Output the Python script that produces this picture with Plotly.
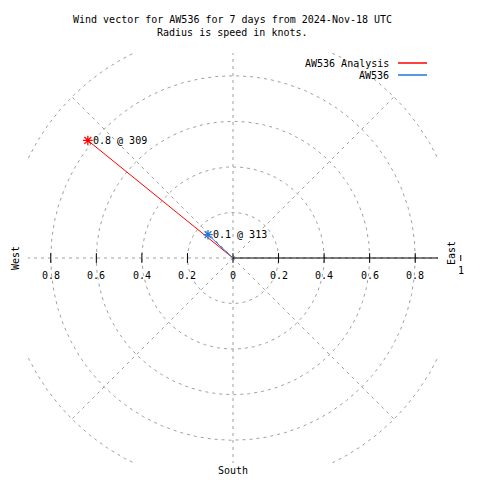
import math
import numpy as np
import plotly.graph_objects as go

# ---- data ----
series_names = ["AW536 Analysis", "AW536"]
speeds = [0.82, 0.15]          # knots
directions = [309, 313]        # degrees (from north, clockwise)
series_colors = ["#ff0000", "#1f78d7"]

ring_values = [0.2, 0.4, 0.6, 0.8, 1.0]
spoke_angles = [0, 45, 90, 135, 180, 225, 270, 315]
tick_values = [-0.8, -0.6, -0.4, -0.2, 0, 0.2, 0.4, 0.6, 0.8]
tick_labels = ["0.8", "0.6", "0.4", "0.2", "0", "0.2", "0.4", "0.6", "0.8"]
outer_tick_value = 1.0
outer_tick_label = "1"
title_lines = ["Wind vector for AW536 for 7 days from 2024-Nov-18 UTC",
               "Radius is speed in knots."]

# ---- layout geometry (page has an 8px body margin) ----
OFF = 8
W, H = 480 - OFF, 480 - OFF
L, T = 28 - OFF, 53 - OFF
PW, PH = 410, 410
R, B = W - L - PW, H - T - PH
XR = [-0.9, 0.9]
FONT = dict(family="DejaVu Sans Mono", size=10, color="black")
GRID = dict(color="#a0a0a0", width=1, dash="3px,4px")


def paper(px, py):
    """page pixel -> paper coords"""
    return (px - OFF - L) / PW, (T + PH - (py - OFF)) / PH


def data_to_paper_x(v):
    return (v - XR[0]) / (XR[1] - XR[0])


fig = go.Figure()

# rings
th = np.linspace(0, 2 * np.pi, 721)
for r in ring_values:
    fig.add_trace(go.Scatter(x=r * np.cos(th), y=r * np.sin(th), mode="lines",
                             line=GRID, hoverinfo="skip", showlegend=False))
# spokes
for a in spoke_angles:
    ar = math.radians(a)
    fig.add_trace(go.Scatter(x=[0, math.cos(ar)], y=[0, math.sin(ar)], mode="lines",
                             line=GRID, hoverinfo="skip", showlegend=False))
# solid axis to the east
fig.add_trace(go.Scatter(x=[0, outer_tick_value], y=[0, 0], mode="lines",
                         line=dict(color="black", width=1), hoverinfo="skip", showlegend=False))
# tick marks
fig.add_trace(go.Scatter(x=tick_values, y=[0] * len(tick_values),
                         mode="markers", cliponaxis=False,
                         marker=dict(symbol="line-ns", size=7, color="black",
                                     line=dict(color="black", width=1)),
                         hoverinfo="skip", showlegend=False))

# data vectors
annotations = []
shapes = []
for name, s, d, c in zip(series_names, speeds, directions, series_colors):
    ex = s * math.sin(math.radians(d))
    ey = s * math.cos(math.radians(d))
    fig.add_trace(go.Scatter(x=[0, ex], y=[0, ey], mode="lines", name=name,
                             line=dict(color=c, width=1), showlegend=False))
    fig.add_trace(go.Scatter(x=[ex], y=[ey], mode="markers", showlegend=False,
                             marker=dict(symbol="asterisk-open", size=8, color=c,
                                         line=dict(color=c, width=1.3))))
    lab = f"{math.floor(s * 10) / 10:.1f} @ {d}"
    annotations.append(dict(x=ex, y=ey, xref="x", yref="y", text=lab, showarrow=False,
                            xanchor="left", yanchor="middle", xshift=3, font=FONT))

# tick labels
for v, t in zip(tick_values, tick_labels):
    annotations.append(dict(x=v, y=0, xref="x", yref="y", text=t, showarrow=False,
                            xanchor="center", yanchor="middle", yshift=-17, font=FONT))

# outer tick (outside the clipped plot area) in paper coords
ox = data_to_paper_x(outer_tick_value)
shapes.append(dict(type="line", xref="paper", yref="y", x0=ox, x1=ox, y0=0, y1=0,
                   ysizemode="pixel", yanchor=0, line=dict(color="black", width=1)))
shapes[-1].update(y0=-3, y1=3)
annotations.append(dict(x=ox, y=0, xref="paper", yref="y", text=outer_tick_label,
                        showarrow=False, xanchor="center", yanchor="middle", yshift=-12, font=FONT))

# direction labels
for txt, px, py, ang in [("West", 15, 258, -90), ("East", 451, 253, -90), ("South", 233, 470, 0)]:
    x, y = paper(px, py)
    annotations.append(dict(x=x, y=y, xref="paper", yref="paper", text=txt, showarrow=False,
                            xanchor="center", yanchor="middle", textangle=ang, font=FONT))

# title
for txt, py in zip(title_lines, [20, 33]):
    x, y = paper(232, py)
    annotations.append(dict(x=x, y=y, xref="paper", yref="paper", text=txt, showarrow=False,
                            xanchor="center", yanchor="middle", font=FONT))

# legend (manual, gnuplot style)
for i, (name, c) in enumerate(zip(series_names, series_colors)):
    py = 63 + 12 * i
    x, y = paper(391, py)
    annotations.append(dict(x=x, y=y, xref="paper", yref="paper", text=name, showarrow=False,
                            xanchor="right", yanchor="middle", font=FONT))
    x0, y0 = paper(398, py)
    x1, _ = paper(427, py)
    shapes.append(dict(type="line", xref="paper", yref="paper", x0=x0, x1=x1, y0=y0, y1=y0,
                       line=dict(color=c, width=1.5)))

fig.update_layout(
    width=W, height=H,
    margin=dict(l=L, r=R, t=T, b=B, pad=0),
    paper_bgcolor="white", plot_bgcolor="white",
    xaxis=dict(range=XR, visible=False, fixedrange=True),
    yaxis=dict(range=XR, visible=False, fixedrange=True),
    annotations=annotations, shapes=shapes, showlegend=False,
    font=FONT,
)

fig.write_html("out.html")
